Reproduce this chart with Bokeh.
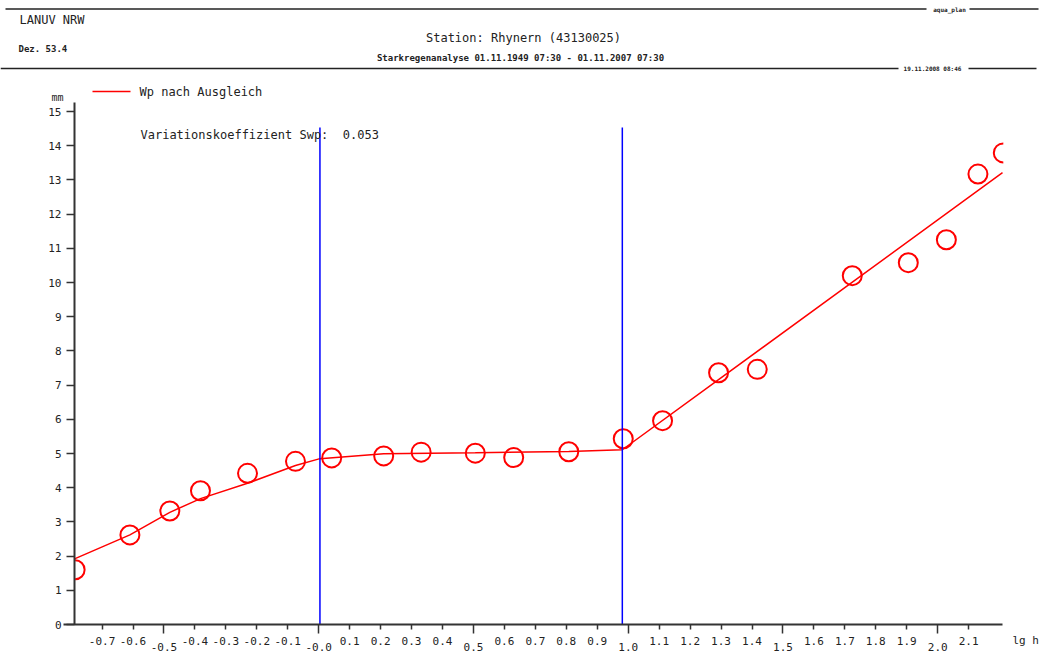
import math
from bokeh.plotting import figure
from bokeh.models import Range1d, FixedTicker, PrintfTickFormatter, LinearAxis
from bokeh.embed import file_html
from bokeh.resources import INLINE
from bokeh.core.properties import value

# ---------------- data ----------------
lg_h = [-0.787, -0.610, -0.481, -0.382, -0.230, -0.075, 0.042, 0.210, 0.331, 0.506, 0.630,
        0.808, 0.984, 1.111, 1.292, 1.417, 1.724, 1.905, 2.028, 2.130, 2.212]
wp_mm = [1.60, 2.62, 3.32, 3.91, 4.42, 4.77, 4.87, 4.93, 5.04, 5.01, 4.88,
         5.05, 5.43, 5.96, 7.36, 7.46, 10.20, 10.58, 11.25, 13.17, 13.79]
fit_lg_h = [-0.789, -0.610, -0.481, -0.382, -0.230, -0.075, 0.004, 0.210, 0.506, 0.808, 0.981, 2.2094]
fit_mm = [1.92, 2.62, 3.28, 3.68, 4.13, 4.65, 4.85, 4.99, 5.02, 5.06, 5.11, 13.21]
split_lg_h = [0.004, 0.981]
split_top_mm = [14.53, 14.53]
split_bottom_mm = [0, 0]
x_ticks_fine = [-0.7, -0.6, -0.4, -0.3, -0.2, -0.1, 0.1, 0.2, 0.3, 0.4, 0.6, 0.7, 0.8, 0.9,
                1.1, 1.2, 1.3, 1.4, 1.6, 1.7, 1.8, 1.9, 2.1]
x_ticks_half = [-0.5, 0.0, 0.5, 1.0, 1.5, 2.0]
x_half_labels = ["-0.5", "-0.0", "0.5", "1.0", "1.5", "2.0"]
y_ticks = list(range(0, 16))
x_min, x_max = -0.789, 2.2094
y_min, y_max = 0.0, 15.25

MONO = "DejaVu Sans Mono"
AX = "#333333"
TXT = "#222222"

W, H = 1042, 652
# linear mapping of the chart: px = 318.2 + 309.5 * lg_h ; py = 624 - 34.2 * mm
X0, XS, Y0, YS = 318.2, 309.5, 624.0, 34.2

p = figure(width=W, height=H,
           x_range=Range1d((0 - X0) / XS, (W - X0) / XS),
           y_range=Range1d((Y0 - H) / YS, Y0 / YS),
           output_backend="svg", toolbar_location=None,
           min_border_left=0, min_border_right=0, min_border_top=0, min_border_bottom=0,
           x_axis_location=None, y_axis_location=None)
p.extra_x_ranges = {"px": Range1d(0, W)}
p.extra_y_ranges = {"px": Range1d(H, 0)}
p.grid.visible = False
p.outline_line_color = None

# ---- axes (fixed in data space) ----
xa = LinearAxis(fixed_location=0.0, bounds=(-0.8245, x_max))
xa.ticker = FixedTicker(ticks=x_ticks_fine, minor_ticks=x_ticks_half)
xa.formatter = PrintfTickFormatter(format="%.1f")
xa.major_tick_out = 5
xa.major_tick_in = 0
xa.minor_tick_out = 9
xa.minor_tick_in = 0
xa.axis_line_width = 2
xa.axis_line_color = AX
xa.major_tick_line_color = AX
xa.minor_tick_line_color = AX
xa.major_tick_line_width = 1.5
xa.minor_tick_line_width = 1.5
xa.major_label_standoff = 3
xa.major_label_text_font = MONO
xa.major_label_text_font_size = "11px"
xa.major_label_text_color = TXT
p.add_layout(xa, "below")

ya = LinearAxis(fixed_location=x_min, bounds=(y_min, y_max))
ya.ticker = FixedTicker(ticks=y_ticks, minor_ticks=[])
ya.major_tick_out = 8
ya.major_tick_in = 0
ya.minor_tick_line_color = None
ya.axis_line_width = 2
ya.axis_line_color = AX
ya.major_tick_line_color = AX
ya.major_tick_line_width = 1.5
ya.major_label_standoff = 5
ya.major_label_text_font = MONO
ya.major_label_text_font_size = "11px"
ya.major_label_text_color = TXT
p.add_layout(ya, "left")

# ---- data marks ----
fit = p.line(x=fit_lg_h, y=fit_mm, line_color="#ff0000", line_width=1.5)
p.scatter(x=lg_h[1:-1], y=wp_mm[1:-1], marker="circle", size=19, fill_color=None,
          line_color="#ff0000", line_width=2)
# the first and last circles are cut by the plot edges
p.arc(x=[lg_h[0]], y=[wp_mm[0]], radius=9.5, radius_units="screen",
      start_angle=-math.pi / 2, end_angle=math.pi / 2, line_color="#ff0000", line_width=2)
p.arc(x=[lg_h[-1]], y=[wp_mm[-1]], radius=9.5, radius_units="screen",
      start_angle=math.pi / 2, end_angle=3 * math.pi / 2, line_color="#ff0000", line_width=2)
p.segment(x0=split_lg_h, y0=split_bottom_mm, x1=split_lg_h, y1=split_top_mm,
          line_color="#0000ff", line_width=1.5)

# staggered labels of the half-unit ticks
p.text(x=x_ticks_half, y=[646] * len(x_ticks_half), y_range_name="px", text=x_half_labels,
       text_font=value(MONO), text_font_size="11px", text_align="center",
       text_baseline="middle", text_color=TXT)
p.text(x=[1012], y=[640], x_range_name="px", y_range_name="px", text=["lg h"],
       text_font=value(MONO), text_font_size="11px", text_align="left",
       text_baseline="middle", text_color=TXT)

# ---- header (pixel coordinates) ----
def ptext(x, y, t, size, align="left", bold=False):
    p.text(x=[x], y=[y], x_range_name="px", y_range_name="px", text=[t],
           text_font=value(MONO), text_font_size=size, text_align=align,
           text_baseline="middle", text_color=TXT,
           text_font_style="bold" if bold else "normal")

p.segment(x0=[5, 969, 0, 968], y0=[8.5, 8.5, 68, 68], x1=[926, 1038, 898, 1036], y1=[8.5, 8.5, 68, 68],
          x_range_name="px", y_range_name="px", line_color=TXT, line_width=1.5)
ptext(949, 9, "aqua_plan", "6px", "center", True)
ptext(932, 68, "19.11.2008 08:46", "6px", "center", True)
ptext(19, 19, "LANUV NRW", "12px")
ptext(18, 48, "Dez. 53.4", "9px", bold=True)
ptext(523, 37, "Station: Rhynern (43130025)", "12px", "center")
ptext(520, 57, "Starkregenanalyse 01.11.1949 07:30 - 01.11.2007 07:30", "9px", "center", True)
ptext(57, 97, "mm", "10px", "center")
ptext(140, 134, "Variationskoeffizient Swp:\u00a0 0.053", "12px")

# legend
p.line(x=[92, 130], y=[91, 91], x_range_name="px", y_range_name="px",
       line_color="#ff0000", line_width=1.5)
ptext(139, 91, "Wp nach Ausgleich", "12px")

open("out.html", "w").write(file_html(p, INLINE))
